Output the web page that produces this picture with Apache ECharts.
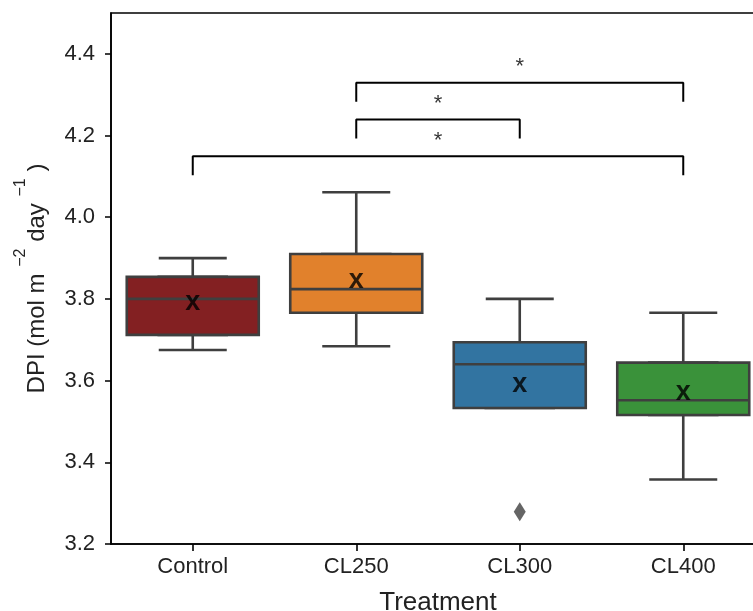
<!DOCTYPE html>
<html>
<head>
<meta charset="utf-8">
<script src="https://cdn.jsdelivr.net/npm/echarts@6/dist/echarts.min.js"></script>
<style>
  html, body { margin: 0; padding: 0; background: #fff; }
  #chart { width: 753px; height: 611px; }
</style>
</head>
<body>
<div id="chart"></div>
<script>
// Data
const categories = ["Control", "CL250", "CL300", "CL400"];
// [min, Q1, median, Q3, max]
const boxStats = [
  [3.675, 3.712, 3.800, 3.854, 3.900],
  [3.684, 3.766, 3.824, 3.910, 4.061],
  [3.533, 3.533, 3.640, 3.694, 3.800],
  [3.358, 3.516, 3.552, 3.644, 3.766],
];
const means = [3.789, 3.843, 3.588, 3.569];
const outliers = [[2, 3.279]];
const boxColors = ["#832022", "#e1812c", "#3274a1", "#3a923a"];
const yTicks = [3.2, 3.4, 3.6, 3.8, 4.0, 4.2, 4.4];
// significance brackets: [from, to, bar level, leg end]
const brackets = [
  [0, 3, 4.149, 4.103],
  [1, 2, 4.239, 4.193],
  [1, 3, 4.329, 4.283],
];
const starLevels = [4.199, 4.29, 4.379];

const chart = echarts.init(document.getElementById("chart"));

const font = "Liberation Sans, Arial, sans-serif";
const edge = "#3f3f3f";

// Brackets as line series on a value axis (-0.5..3.5 lines up with the categories)
const bracketSeries = brackets.map((b) => ({
  type: "line",
  xAxisIndex: 2,
  silent: true,
  symbol: "none",
  lineStyle: { color: "#000", width: 2 },
  data: [
    [b[0], b[3]],
    [b[0], b[2]],
    [b[1], b[2]],
    [b[1], b[3]],
  ],
}));

const option = {
  animation: false,
  backgroundColor: "#fff",
  // plot runs a little past the right edge of the picture, like the reference
  grid: {
    left: 111,
    width: 654,
    top: 13,
    bottom: 67,
    outerBoundsMode: "none",
    containLabel: false,
    show: true,
    borderColor: "#000",
    borderWidth: 1.6,
  },
  xAxis: [
    {
      type: "category",
      position: "bottom",
      data: categories,
      axisLine: { onZero: false, lineStyle: { color: "#000", width: 1.6 } },
      axisTick: {
        show: true,
        interval: 0,
        alignWithLabel: true,
        length: 7,
        lineStyle: { color: "#000", width: 1.6 },
      },
      axisLabel: { color: "#222", fontSize: 22, fontFamily: font, margin: 12 },
      name: "Treatment",
      nameLocation: "middle",
      nameGap: 46,
      nameTextStyle: { color: "#222", fontSize: 26, fontFamily: font },
    },
    // hidden copy so the whisker series is centred on its own
    { type: "category", position: "top", data: categories, show: false },
    // hidden value axis for the brackets and stars
    { type: "value", position: "top", min: -0.5, max: 3.5, show: false },
  ],
  yAxis: {
    type: "value",
    min: 3.2,
    max: 4.5,
    interval: 0.2,
    splitLine: { show: false },
    axisLine: { show: true, onZero: false, lineStyle: { color: "#000", width: 1.6 } },
    axisTick: {
      show: true,
      length: 6,
      customValues: yTicks,
      lineStyle: { color: "#000", width: 1.5 },
    },
    axisLabel: {
      color: "#222",
      fontSize: 22,
      fontFamily: font,
      margin: 16,
      customValues: yTicks,
      formatter: (v) => v.toFixed(1),
    },
    name: "{b|DPI (mol m }{s|−2}{b| day }{s|−1}{b| )}",
    nameLocation: "middle",
    nameRotate: 90,
    nameGap: 62,
    nameTextStyle: {
      fontFamily: font,
      color: "#222",
      rich: {
        b: { fontSize: 24, fontFamily: font, color: "#222", lineHeight: 36, verticalAlign: "bottom" },
        s: { fontSize: 16, fontFamily: font, color: "#222", lineHeight: 14, verticalAlign: "top" },
      },
    },
  },
  series: [
    // whiskers with short caps (box hidden under the main one)
    {
      type: "boxplot",
      xAxisIndex: 1,
      silent: true,
      boxWidth: [68, 68],
      itemStyle: { color: "#fff", borderColor: edge, borderWidth: 2.6 },
      data: boxStats,
    },
    // boxes
    {
      type: "boxplot",
      xAxisIndex: 0,
      silent: true,
      boxWidth: [132, 132],
      data: boxStats.map((s, i) => ({
        value: [s[1], s[1], s[2], s[3], s[3]],
        itemStyle: { color: boxColors[i], borderColor: edge, borderWidth: 2.6 },
      })),
    },
    // outliers
    {
      type: "scatter",
      xAxisIndex: 0,
      silent: true,
      symbol: "diamond",
      symbolSize: [12, 19],
      itemStyle: { color: edge },
      data: outliers,
    },
    // mean markers
    {
      type: "scatter",
      xAxisIndex: 0,
      silent: true,
      symbolSize: 1,
      itemStyle: { color: "rgba(0,0,0,0)" },
      label: {
        show: true,
        position: "inside",
        formatter: "x",
        fontSize: 27,
        fontWeight: "bold",
        fontFamily: font,
        color: "#000",
        offset: [0, -1],
      },
      data: means.map((m, i) => [i, m]),
    },
    ...bracketSeries,
    // stars
    {
      type: "scatter",
      xAxisIndex: 2,
      silent: true,
      symbolSize: 1,
      itemStyle: { color: "rgba(0,0,0,0)" },
      label: {
        show: true,
        position: "inside",
        formatter: "*",
        fontSize: 22,
        fontFamily: font,
        color: "#000",
        offset: [0, 5],
      },
      data: brackets.map((b, i) => [(b[0] + b[1]) / 2, starLevels[i]]),
    },
  ],
};

chart.setOption(option);
</script>
</body>
</html>
